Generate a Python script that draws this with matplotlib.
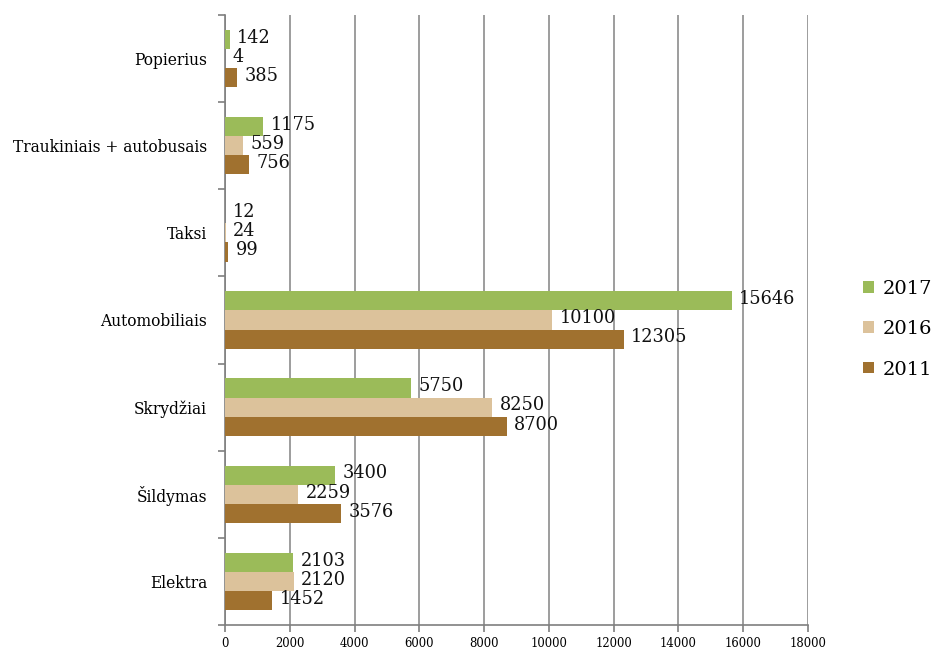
import numpy as np
import matplotlib
matplotlib.use("Agg")
import matplotlib.pyplot as plt

# categories bottom to top
categories = ["Elektra", "Šildymas", "Skrydžiai", "Automobiliais", "Taksi",
              "Traukiniais + autobusais", "Popierius"]
years = ["2017", "2016", "2011"]
values = {
    "2017": [2103, 3400, 5750, 15646, 12, 1175, 142],
    "2016": [2120, 2259, 8250, 10100, 24, 559, 4],
    "2011": [1452, 3576, 8700, 12305, 99, 756, 385],
}
colors = {"2017": "#9bbb59", "2016": "#dcc29b", "2011": "#a0712f"}
xticks = list(range(0, 18001, 2000))

plt.rcParams["font.family"] = ["DejaVu Serif"]

fig = plt.figure(figsize=(9.39, 6.52), dpi=100)
ax = fig.add_axes([225 / 939, 1 - 625 / 652, (808 - 225) / 939, (625 - 15) / 652])

y = np.arange(len(categories))
h = 0.22
offsets = {"2017": h, "2016": 0.0, "2011": -h}
for yr in years:
    bars = ax.barh(y + offsets[yr], values[yr], height=h, color=colors[yr],
                   label=yr, zorder=3)
    for b, v in zip(bars, values[yr]):
        ax.text(b.get_width() + 230, b.get_y() + b.get_height() / 2 + 0.02,
                str(v), va="center", ha="left", fontsize=12.8, color="#111111",
                zorder=4)

ax.set_xlim(0, 18000)
ax.set_ylim(-0.5, len(categories) - 0.5)
ax.set_xticks(xticks)
ax.set_xticklabels([str(t) for t in xticks], fontsize=8.4)
ax.set_yticks(y)
ax.set_yticklabels(categories, fontsize=11.2)
ax.set_yticks(np.arange(-0.5, len(categories), 1), minor=True)
ax.tick_params(axis="y", which="major", length=0, pad=13)
ax.tick_params(axis="y", which="minor", length=5, color="#7f7f7f", width=1.2)
ax.tick_params(axis="x", length=5, color="#7f7f7f", width=1.2, pad=3.5)

ax.grid(axis="x", color="#8c8c8c", linewidth=1.2, zorder=0)
for s in ["top", "right"]:
    ax.spines[s].set_visible(False)
for s in ["left", "bottom"]:
    ax.spines[s].set_color("#7f7f7f")
    ax.spines[s].set_linewidth(1.2)

ax.legend(loc="center left", bbox_to_anchor=(1.095, 0.485), frameon=False,
          fontsize=14, handlelength=0.55, handleheight=0.55, handletextpad=0.45,
          labelspacing=1.15, borderpad=0, borderaxespad=0)

fig.savefig("out.png", dpi=100)
